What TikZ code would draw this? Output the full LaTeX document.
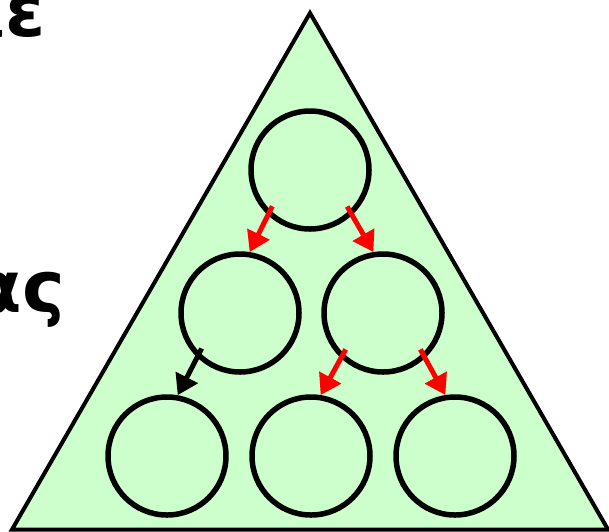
\documentclass[tikz,border=0pt]{standalone}
\usepackage{fontspec}
\setmainfont{DejaVu Sans}
\usetikzlibrary{arrows.meta}
\definecolor{ink}{HTML}{000000}
\definecolor{leaf}{HTML}{CCFFCC}
\definecolor{hot}{HTML}{FF0000}
\tikzset{
  ball/.style={circle, draw=ink, line width=5.5pt, minimum size=118pt, inner sep=0pt},
  arrow/.style={-{Triangle[length=20pt,width=24pt]}, line width=5pt, draw=ink, shorten <=-10pt},
  redarrow/.style={arrow, draw=hot},
  word/.style={font=\bfseries\fontsize{72}{80}\selectfont, text=ink, inner sep=0pt, anchor=base east}
}

\begin{document}
\begin{tikzpicture}[x=1pt, y=-1pt]
\useasboundingbox (0,0) rectangle (609,531);
\draw[fill=leaf, draw=ink, line width=4pt] (310,13) -- (12,529.5) -- (608,529.5) -- cycle;
\node[word] (upper) at (46,36) {ιε};
\node[word] (lower) at (65,312) {ας};
\node[ball] (t) at (310,170) {};
\node[ball] (ml) at (240,313) {};
\node[ball] (mr) at (383,313) {};
\node[ball] (bl) at (167,456) {};
\node[ball] (bm) at (311,456) {};
\node[ball] (br) at (455,456) {};
\draw[redarrow] (t.227) -- (ml.81);
\draw[redarrow] (t.313) -- (mr.99);
\draw[arrow] (ml.226) -- (bl.80);
\draw[redarrow] (mr.227) -- (bm.81);
\draw[redarrow] (mr.313) -- (br.99);
\end{tikzpicture}
\end{document}
